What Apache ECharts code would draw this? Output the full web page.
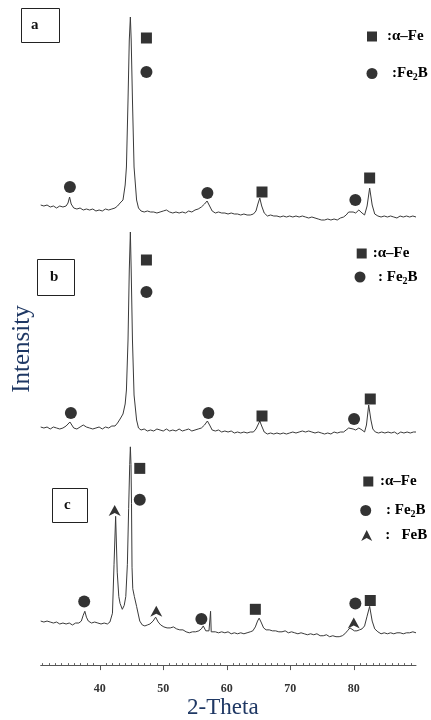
<!DOCTYPE html>
<html><head><meta charset="utf-8">
<script src="https://cdn.jsdelivr.net/npm/echarts@6/dist/echarts.min.js"></script>
<style>html,body{margin:0;padding:0;background:#fff}#chart{width:431px;height:720px}</style>
</head><body><div id="chart"></div>
<script>
// XRD patterns: [2-theta (deg), intensity (a.u.)]
const patternA = [[30.7,25],[31.2,24],[31.7,25],[32.2,23],[32.7,24],[33.2,22],[33.7,24],[34.2,23],[34.7,24],[35.0,27],[35.25,33],[35.5,26],[35.9,22],[36.4,21],[36.9,22],[37.4,20],[37.9,21],[38.4,20],[38.9,21],[39.4,19],[39.9,20],[40.4,19],[40.9,21],[41.4,20],[41.9,21],[42.4,22],[42.8,24],[43.2,27],[43.66,30],[44.0,45],[44.2,63],[44.45,130],[44.65,190],[44.82,213],[44.95,190],[45.15,130],[45.4,63],[45.8,30],[46.1,22],[46.5,19],[47.0,18],[47.5,19],[48.0,18],[48.5,18],[49.0,17],[49.5,18],[50.0,19],[50.5,20],[51.0,18],[51.5,17],[52.0,18],[52.5,17],[53.0,18],[53.5,17],[54.0,19],[54.5,18],[55.0,20],[55.5,21],[56.0,23],[56.5,26],[56.9,29],[57.3,24],[57.7,19],[58.2,17],[58.7,18],[59.2,17],[59.7,17],[60.2,16],[60.7,17],[61.2,16],[61.7,16],[62.2,15],[62.7,16],[63.2,15],[63.7,15],[64.2,16],[64.6,19],[64.9,26],[65.2,32],[65.5,24],[65.9,17],[66.4,14],[66.9,15],[67.4,14],[67.9,14],[68.4,13],[68.9,14],[69.4,13],[69.9,14],[70.4,13],[70.9,14],[71.4,13],[71.9,14],[72.4,13],[72.9,12],[73.4,13],[73.9,12],[74.4,11],[74.9,10],[75.4,10],[75.9,11],[76.4,10],[76.9,11],[77.4,10],[77.9,12],[78.4,13],[78.8,15],[79.2,18],[79.5,20],[79.9,18],[80.3,17],[80.8,20],[81.3,17],[81.7,15],[82.1,24],[82.5,42],[82.9,25],[83.3,16],[83.8,14],[84.3,13],[84.8,14],[85.3,13],[85.8,14],[86.3,13],[86.8,12],[87.3,14],[87.8,13],[88.3,14],[88.8,13],[89.3,14],[89.8,13]];
const patternB = [[30.7,23],[31.2,22],[31.7,23],[32.2,21],[32.7,23],[33.2,22],[33.7,21],[34.2,22],[34.7,24],[35.0,25],[35.3,28],[35.6,25],[35.9,22],[36.4,21],[36.9,23],[37.4,25],[37.9,23],[38.4,22],[38.9,21],[39.4,22],[39.9,23],[40.4,21],[40.9,23],[41.4,22],[41.9,24],[42.4,24],[42.8,27],[43.2,31],[43.66,36],[44.0,46],[44.2,60],[44.45,110],[44.65,180],[44.82,218],[44.95,180],[45.15,110],[45.4,55],[45.8,30],[46.1,22],[46.5,20],[47.0,21],[47.5,19],[48.0,20],[48.5,19],[49.0,21],[49.5,20],[50.0,19],[50.5,21],[51.0,19],[51.5,20],[52.0,19],[52.5,21],[53.0,19],[53.5,20],[54.0,21],[54.5,19],[55.0,20],[55.5,21],[56.0,22],[56.5,25],[56.95,29],[57.3,25],[57.7,20],[58.2,19],[58.7,20],[59.2,18],[59.7,19],[60.2,18],[60.7,19],[61.2,17],[61.7,18],[62.2,17],[62.7,18],[63.2,17],[63.7,18],[64.2,18],[64.6,21],[64.9,25],[65.2,29],[65.5,24],[65.9,18],[66.4,16],[66.9,17],[67.4,16],[67.9,17],[68.4,16],[68.9,17],[69.4,16],[69.9,17],[70.4,18],[70.9,17],[71.4,18],[71.9,19],[72.4,18],[72.9,19],[73.4,18],[73.9,17],[74.4,18],[74.9,17],[75.4,16],[75.9,17],[76.4,16],[76.9,18],[77.4,17],[77.9,18],[78.4,18],[78.8,20],[79.2,22],[79.5,23],[79.9,21],[80.3,20],[80.8,22],[81.3,20],[81.7,18],[82.0,25],[82.35,45],[82.7,30],[83.0,21],[83.4,18],[83.9,17],[84.4,18],[84.9,17],[85.4,18],[85.9,17],[86.4,18],[86.9,16],[87.4,18],[87.9,17],[88.4,18],[88.9,17],[89.4,18],[89.8,18]];
const patternC = [[30.7,45],[31.2,44],[31.7,45],[32.2,44],[32.7,43],[33.2,44],[33.7,42],[34.2,43],[34.7,42],[35.2,43],[35.7,41],[36.2,43],[36.7,43],[37.1,45],[37.4,51],[37.65,55],[37.9,49],[38.2,45],[38.7,43],[39.2,44],[39.7,43],[40.2,42],[40.7,43],[41.2,42],[41.6,44],[42.0,53],[42.25,103],[42.5,152],[42.75,95],[43.0,70],[43.2,63],[43.55,57],[43.85,61],[44.1,70],[44.35,103],[44.55,160],[44.72,205],[44.82,223],[44.92,205],[45.0,165],[45.08,100],[45.2,78],[45.45,70],[45.8,60],[46.3,45],[46.7,41],[47.1,40],[47.5,41],[47.9,42],[48.4,45],[48.8,49],[49.2,44],[49.6,41],[50.1,39],[50.6,38],[51.1,38],[51.6,39],[52.1,37],[52.6,36],[53.1,36],[53.6,34],[54.1,33],[54.6,34],[55.1,34],[55.6,35],[56.0,37],[56.3,40],[56.7,35],[57.2,35],[57.35,36],[57.45,55],[57.55,34],[57.8,33],[58.2,34],[58.7,33],[59.2,34],[59.7,33],[60.2,34],[60.7,32],[61.2,33],[61.7,32],[62.2,33],[62.7,32],[63.2,33],[63.7,34],[64.1,35],[64.5,39],[64.85,45],[65.1,48],[65.4,44],[65.8,38],[66.2,36],[66.7,36],[67.2,35],[67.7,35],[68.2,34],[68.7,34],[69.2,35],[69.7,33],[70.2,34],[70.7,33],[71.2,32],[71.7,33],[72.2,32],[72.7,31],[73.2,32],[73.7,31],[74.2,32],[74.7,30],[75.2,30],[75.7,31],[76.2,29],[76.7,30],[77.2,29],[77.7,29],[78.2,30],[78.6,32],[79.0,35],[79.4,38],[79.7,37],[80.1,35],[80.5,35],[80.9,36],[81.3,37],[81.7,40],[82.1,50],[82.5,60],[82.9,45],[83.3,37],[83.8,34],[84.3,32],[84.8,33],[85.3,32],[85.8,33],[86.3,32],[86.8,33],[87.3,33],[87.8,32],[88.3,33],[88.8,33],[89.3,34],[89.8,33]];

// Phase markers: [2-theta, intensity]
const alphaFeA = [[47.35,192],[65.55,38],[82.5,52]];
const fe2bA    = [[35.3,43],[47.35,158],[56.95,37],[80.25,30]];
const alphaFeB = [[47.35,190],[65.55,34],[82.6,51]];
const fe2bB    = [[35.45,37],[47.35,158],[57.1,37],[80.05,31]];
const alphaFeC = [[46.3,201],[64.5,57],[82.6,66]];
const fe2bC    = [[37.55,65],[46.3,169],[56.0,47],[80.25,63]];
const feBC     = [[42.35,158],[48.9,55],[80.0,43]];

const majorTicks = [40,50,60,70,80];
const minorTicks = [31,32,33,34,35,36,37,38,39,41,42,43,44,45,46,47,48,49,51,52,53,54,55,56,57,58,59,61,62,63,64,65,66,67,68,69,71,72,73,74,75,76,77,78,79,81,82,83,84,85,86,87,88,89];
const axisMin = 30.7, axisMax = 89.8;
const panelLabels = ['a','b','c'];

const SERIF = "'Liberation Serif','Times New Roman',serif";
const triPath = 'path://M50,0 L100,100 L50,72 L0,100 Z';
const chart = echarts.init(document.getElementById('chart'), null, {renderer:'canvas'});

const gridTops = [0, 220, 440];
const grids = gridTops.map(t => ({left: 40.7, right: 15, top: t, height: 230}));
grids.push({left: 40.7, right: 15, top: 250, height: 198});

const xAxes = [0,1].map(i => ({type:'value', gridIndex:i, min:axisMin, max:axisMax, show:false}));
xAxes.push({
  type:'value', gridIndex:2, position:'bottom', min:axisMin, max:axisMax,
  axisLine:{show:true, lineStyle:{color:'#555', width:1}},
  axisTick:{show:true, customValues: majorTicks, length:5, lineStyle:{color:'#555'}},
  axisLabel:{show:true, customValues: majorTicks, margin:18, color:'#333', fontFamily:SERIF, fontWeight:'bold', fontSize:12},
  splitLine:{show:false},
  name:'2-Theta', nameLocation:'middle', nameGap:26,
  nameTextStyle:{fontFamily:SERIF, fontSize:23, color:'#1f3864', padding:[0,11,0,0]}
});
xAxes.push({
  type:'value', gridIndex:2, position:'bottom', offset:0, min:axisMin, max:axisMax,
  axisLine:{show:false},
  axisTick:{show:true, inside:true, customValues: minorTicks, length:2, lineStyle:{color:'#666'}},
  axisLabel:{show:false}, splitLine:{show:false}
});
xAxes.push({type:'value', gridIndex:3, show:false});

const yAxes = [0,1,2].map(i => ({type:'value', gridIndex:i, min:0, max:230, show:false}));
yAxes.push({
  type:'value', gridIndex:3, min:0, max:1,
  axisLine:{show:false}, axisTick:{show:false}, axisLabel:{show:false}, splitLine:{show:false},
  name:'Intensity', nameLocation:'middle', nameGap:6,
  nameTextStyle:{fontFamily:SERIF, fontSize:25, color:'#1f3864'}
});

const patterns = [patternA, patternB, patternC];
const alphaSets = [alphaFeA, alphaFeB, alphaFeC];
const fe2bSets = [fe2bA, fe2bB, fe2bC];
const series = [];
patterns.forEach((p, i) => {
  series.push({type:'line', name:'pattern ' + panelLabels[i], xAxisIndex: i, yAxisIndex:i,
    data:p, showSymbol:false, symbol:'none', lineStyle:{color:'#3a3a3a', width:1}, silent:true, z:2});
});
[0,1,2].forEach(i => {
  series.push({type:'scatter', name:'α–Fe', xAxisIndex:i, yAxisIndex:i, data:alphaSets[i],
    symbol:'rect', symbolSize:11, itemStyle:{color:'#000'}, z:3, silent:true});
  series.push({type:'scatter', name:'Fe2B', xAxisIndex:i, yAxisIndex:i, data:fe2bSets[i],
    symbol:'circle', symbolSize:12, itemStyle:{color:'#000'}, z:3, silent:true});
});
series.push({type:'scatter', name:'FeB', xAxisIndex:2, yAxisIndex:2, data:feBC,
  symbol:triPath, symbolSize:[12,11], itemStyle:{color:'#000'}, z:3, silent:true});

function richSet(pad){
  const base = {fontFamily:SERIF, fontWeight:'bold', fontSize:15, lineHeight:18, color:'#000'};
  return {
    p: Object.assign({}, base, {padding:[0,0,0,pad]}),
    t: base,
    s: {fontFamily:SERIF, fontWeight:'bold', fontSize:10, lineHeight:12, color:'#000', verticalAlign:'bottom'}
  };
}
function legendItem(name, icon, size, left, cy, pad, fmt){
  return {
    data:[{name:name, icon:icon}], left:left, top:cy - 9, padding:0, itemGap:0,
    itemWidth:size[0], itemHeight:size[1], selectedMode:false,
    formatter: () => fmt,
    textStyle:{fontFamily:SERIF, fontWeight:'bold', fontSize:15, color:'#000', rich: richSet(pad)}
  };
}
const legends = [
  legendItem('α–Fe','rect',[10,10],367,38,5,'{p|:α–Fe}'),
  legendItem('Fe2B','circle',[11,11],366.5,75,9.5,'{p|:Fe}{s|2}{t|B}'),
  legendItem('α–Fe','rect',[10,10],356.7,255,1,'{p|:α–Fe}'),
  legendItem('Fe2B','circle',[11,11],354.5,278.5,7.5,'{p|: Fe}{s|2}{t|B}'),
  legendItem('α–Fe','rect',[10,10],363.3,483,1.7,'{p|:α–Fe}'),
  legendItem('Fe2B','circle',[11,11],360.2,512,9.8,'{p|: Fe}{s|2}{t|B}'),
  legendItem('FeB',triPath,[11,11],361.2,537,8,'{p|:   FeB}')
];

const titleBase = {borderWidth:1, borderColor:'#222',
  textStyle:{fontFamily:SERIF, fontWeight:'bold', fontSize:15, lineHeight:17, color:'#111'}};
const titles = [
  Object.assign({text:panelLabels[0], left:21, top:8, padding:[9,21,9,10]}, titleBase),
  Object.assign({text:panelLabels[1], left:37, top:259, padding:[10,16,10,13]}, titleBase),
  Object.assign({text:panelLabels[2], left:52, top:488, padding:[9,17,9,12]}, titleBase)
];

chart.setOption({
  animation:false,
  backgroundColor:'#fff',
  title:titles,
  legend:legends,
  grid:grids,
  xAxis:xAxes,
  yAxis:yAxes,
  series:series
});
</script></body></html>
